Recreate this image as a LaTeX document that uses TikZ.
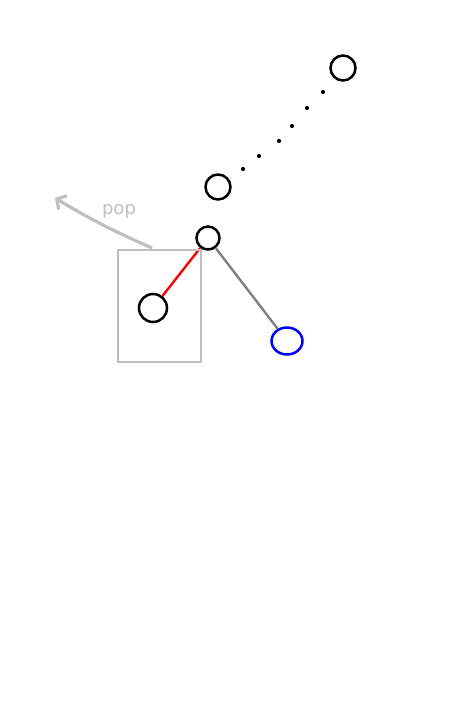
\documentclass[tikz,border=0pt]{standalone}
\usepackage{fontspec}
\setmainfont{DejaVu Sans}
\usetikzlibrary{arrows.meta, shapes.geometric}
\begin{document}
\begin{tikzpicture}[
  x = 1pt, y = -1pt,
  vertex/.style = {draw, circle, line width = 2.5pt, minimum size = 25pt, inner sep = 0pt},
  fresh/.style = {draw = blue, ellipse, line width = 2.5pt, minimum width = 31pt, minimum height = 27pt, inner sep = 0pt},
  ghost/.style = {draw = gray!50, line width = 2.7pt},
  ]
  \useasboundingbox (0,0) rectangle (454,718);
  % the nodes
  \node[vertex] (top)  at (343,68)  {};
  \node[vertex] (mid)  at (218,187) {};
  \node[vertex, minimum size = 23pt] (root) at (208,238) {};
  \node[vertex, minimum size = 28pt] (left) at (153,308) {};
  \node[fresh]  (right) at (287,341) {};
  \node[text = gray!50, font = \fontsize{18}{20}\selectfont] (pop) at (119,211) {pop};
  \coordinate (popfrom) at (152,248);
  \coordinate (popto)   at (55,198);
  % the edges
  \draw[red, line width = 2.4pt] (root) -- (left);
  \draw[gray, line width = 2.4pt] (root) -- (right);
  \foreach \x/\y in {243/169, 259/156, 279/141, 292/126, 307/108, 323/92}
    \fill (\x,\y) circle (2.1pt);
  % popped part
  \draw[ghost] (118,250) rectangle (201,362);
  \draw[ghost, line width = 3.2pt, -{Straight Barb[length = 7pt, width = 16pt]}]
    (popfrom) .. controls (125,236) and (100,225) .. (popto);
\end{tikzpicture}
\end{document}
